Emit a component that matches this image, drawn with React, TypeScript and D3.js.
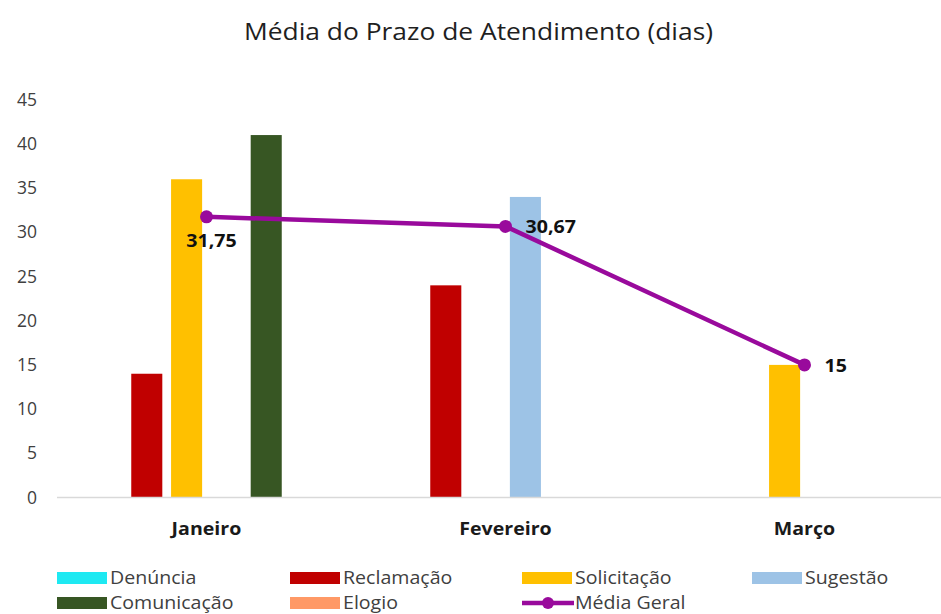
import React from 'react';
import * as d3 from 'd3';

const MONTHS = ['Janeiro', 'Fevereiro', 'Março'];
const SERIES = ['Denúncia', 'Reclamação', 'Solicitação', 'Sugestão', 'Comunicação', 'Elogio'];
const COLORS = ['#1ee9f2', '#c00000', '#ffc000', '#9dc3e6', '#375623', '#ff9966'];
// values[month][series], null = no bar
const VALUES: (number | null)[][] = [
  [null, 14, 36, null, 41, null],
  [null, 24, null, 34, null, null],
  [null, null, 15, null, null, null],
];
const MEDIA = [31.75, 30.67, 15];
const MEDIA_LABELS = ['31,75', '30,67', '15'];
const LABEL_POS = ['below', 'right', 'right'];
const Y_TICKS = [0, 5, 10, 15, 20, 25, 30, 35, 40, 45];

const W = 941;
const H = 614;
const FONT = '"Open Sans", sans-serif';
const LINE_COLOR = '#990a9c';

// text stretched horizontally a little, the source font is wider than Open Sans here
const SText = ({ x, y, sx = 1, children, ...rest }: any) => (
  <g transform={`translate(${x},${y}) scale(${sx},1)`}>
    <text x={0} y={0} fontFamily={FONT} {...rest}>{children}</text>
  </g>
);

export default function App() {
  const margin = { top: 100, left: 57, bottom: 117 };
  const x0 = d3.scaleBand().domain(MONTHS).range([margin.left, margin.left + 897]);
  const x1 = d3.scaleBand<number>()
    .domain(d3.range(SERIES.length))
    .range([0, x0.bandwidth()])
    .paddingInner(0.22)
    .paddingOuter(0.865);
  const y = d3.scaleLinear().domain([0, 45]).range([497.5, 99.7]);

  const cx = (m: string) => (x0(m) as number) + x0.bandwidth() / 2;
  const line = d3.line<number>()
    .x((_, i) => cx(MONTHS[i]))
    .y(d => y(d));

  // legend layout: 4 columns, 2 rows
  const legendItems = [...SERIES.map((s, i) => ({ name: s, color: COLORS[i], line: false })),
    { name: 'Média Geral', color: LINE_COLOR, line: true }];
  const colX = [57, 290, 522, 752];

  return (
    <svg width={W} height={H} style={{ position: 'absolute', left: 0, top: 0, background: '#fff' }}>
      <SText x={478.5} y={40} sx={1.1} textAnchor="middle" fontSize={24} fill="#1f1f1f">
        Média do Prazo de Atendimento (dias)
      </SText>

      {Y_TICKS.map(t => (
        <text key={t} x={37} y={y(t)} dy="0.35em" textAnchor="end"
          fontFamily={FONT} fontSize={17.5} fill="#404040">{t}</text>
      ))}

      {VALUES.map((row, mi) => (
        <g key={mi} transform={`translate(${x0(MONTHS[mi])},0)`}>
          {row.map((v, si) => v == null ? null : (
            <rect key={si} x={x1(si)} y={y(v)} width={x1.bandwidth()}
              height={y(0) - y(v)} fill={COLORS[si]} />
          ))}
        </g>
      ))}

      <line x1={margin.left} x2={W} y1={y(0)} y2={y(0)} stroke="#d9d9d9" strokeWidth={1.5} />

      {MONTHS.map(m => (
        <SText key={m} x={cx(m)} y={535} sx={1.12} textAnchor="middle"
          fontSize={17.5} fontWeight="bold" fill="#1a1a1a">{m}</SText>
      ))}

      <path d={line(MEDIA) || ''} fill="none" stroke={LINE_COLOR} strokeWidth={4.5} />
      {MEDIA.map((v, i) => (
        <circle key={i} cx={cx(MONTHS[i])} cy={y(v)} r={6.5} fill={LINE_COLOR} />
      ))}
      {MEDIA.map((v, i) => {
        const px = cx(MONTHS[i]);
        const py = y(v);
        const below = LABEL_POS[i] === 'below';
        return (
          <SText key={i} x={below ? px + 5 : px + 20} y={below ? py + 30 : py + 7} sx={1.12}
            textAnchor={below ? 'middle' : 'start'} fontSize={17.5}
            fontWeight="bold" fill="#111">{MEDIA_LABELS[i]}</SText>
        );
      })}

      {legendItems.map((it, i) => {
        const lx = colX[i % 4];
        const ly = i < 4 ? 578 : 603;
        return (
          <g key={it.name}>
            {it.line ? (
              <g>
                <line x1={lx} x2={lx + 52} y1={ly} y2={ly} stroke={it.color} strokeWidth={4.5} />
                <circle cx={lx + 26} cy={ly} r={6} fill={it.color} />
              </g>
            ) : (
              <rect x={lx} y={ly - 6} width={50} height={12} fill={it.color} />
            )}
            <SText x={lx + 53} y={ly + 6} sx={1.12} fontSize={17.5} fill="#404040">
              {it.name}
            </SText>
          </g>
        );
      })}
    </svg>
  );
}
